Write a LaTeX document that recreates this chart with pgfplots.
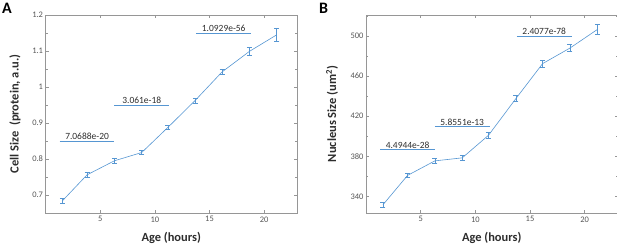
\documentclass[border=0pt]{standalone}
\usepackage{fontspec}
\setmainfont{Carlito}
\usepackage{pgfplots}
\pgfplotsset{compat=1.18}
\definecolor{mblue}{RGB}{86,150,210}
\definecolor{axgray}{RGB}{150,150,150}
\definecolor{tickgray}{RGB}{85,85,85}
\definecolor{txtgray}{RGB}{45,45,45}
\tikzset{st/.style={font=\fontsize{9.5}{11}\selectfont, text=txtgray, anchor=south, inner sep=1.5bp}}
\begin{document}
\begin{tikzpicture}
\useasboundingbox (0bp,0bp) rectangle (617bp,247bp);
\pgfplotsset{
  myax/.style={
    scale only axis, width=251.5bp, height=198bp,
    xmin=0, xmax=23, xtick={5,10,15,20},
    axis line style={axgray, line width=0.5pt},
    tick style={axgray, line width=0.5pt},
    major tick length=3bp, minor tick length=2bp,
    tick align=inside,
    minor y tick num=1,
    minor x tick num=0,
    ticklabel style={font=\fontsize{8.5}{10}\selectfont, text=tickgray},
    /pgf/number format/assume math mode=true,
    yticklabel style={xshift=1bp},
    label style={font=\bfseries\fontsize{12.5}{14}\selectfont, text=txtgray},
    xlabel style={at={(axis description cs:0.5,-0.126)}, anchor=center},
    ylabel style={at={(axis description cs:-0.121,0.5)}, anchor=center},
  },
  dl/.style={mblue, line width=0.6pt, mark=none,
    error bars/.cd, y dir=both, y explicit,
    error mark=|,
    error bar style={mblue, line width=0.6pt},
    error mark options={mblue, mark size=2.5bp, line width=0.6pt}},
  sl/.style={color=mblue, line width=0.8pt, mark=none, forget plot},
}
\begin{axis}[myax, at={(45.5bp,34bp)}, anchor=south west,
  ymin=0.65, ymax=1.2, ytick={0.7,0.8,0.9,1,1.1,1.2},
  yticklabels={0.7,0.8,0.9,1,1.1,1.2},
  xlabel={Age (hours)}, ylabel={Cell Size~~(protein, a.u.)}]
\addplot[dl] coordinates {
 (1.55,0.684) +- (0,0.008)
 (3.8,0.756) +- (0,0.006)
 (6.3,0.795) +- (0,0.006)
 (8.8,0.818) +- (0,0.006)
 (11.2,0.888) +- (0,0.006)
 (13.7,0.963) +- (0,0.007)
 (16.15,1.042) +- (0,0.007)
 (18.65,1.099) +- (0,0.010)
 (21.15,1.145) +- (0,0.017)
};
\addplot[sl] coordinates {(1.3,0.85) (6.3,0.85)};
\addplot[sl] coordinates {(6.3,0.95) (11.3,0.95)};
\addplot[sl] coordinates {(13.8,1.15) (18.8,1.15)};
\node[st] at (axis cs:3.8,0.85) {7.0688e-20};
\node[st] at (axis cs:8.8,0.95) {3.061e-18};
\node[st] at (axis cs:16.3,1.15) {1.0929e-56};
\end{axis}
\begin{axis}[myax, at={(366bp,34bp)}, anchor=south west,
  ymin=323.5, ymax=521, ytick={340,380,420,460,500},
  minor ytick={320,360,400,440,480,520},
  minor y tick num=0,
  xlabel={Age (hours)}, ylabel={Nucleus Size (um\textsuperscript{2})},
  ylabel style={at={(axis description cs:-0.135,0.5)}}]
\addplot[dl] coordinates {
 (1.55,331.7) +- (0,2.8)
 (3.8,361) +- (0,2.3)
 (6.3,375.5) +- (0,2.5)
 (8.8,378.5) +- (0,2.5)
 (11.2,401) +- (0,2.5)
 (13.7,437.5) +- (0,3)
 (16.15,472.5) +- (0,3.5)
 (18.65,488) +- (0,3.5)
 (21.15,506.5) +- (0,5)
};
\addplot[sl] coordinates {(1.3,386.5) (6.3,386.5)};
\addplot[sl] coordinates {(6.3,409.5) (11.3,409.5)};
\addplot[sl] coordinates {(13.8,500) (18.8,500)};
\node[st] at (axis cs:3.8,386.5) {4.4944e-28};
\node[st] at (axis cs:8.8,409.5) {5.8551e-13};
\node[st] at (axis cs:16.3,500) {2.4077e-78};
\end{axis}
\node[font=\bfseries\fontsize{16}{18}\selectfont, anchor=north west, inner sep=0pt] at (2bp,244bp) {A};
\node[font=\bfseries\fontsize{16}{18}\selectfont, anchor=north west, inner sep=0pt] at (319bp,244bp) {B};
\end{tikzpicture}
\end{document}
